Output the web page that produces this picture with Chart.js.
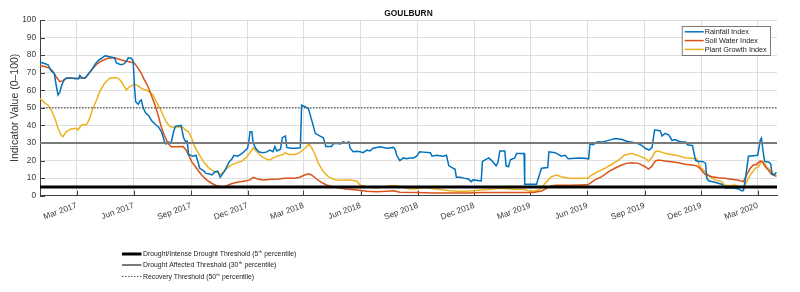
<!DOCTYPE html>
<html><head><meta charset="utf-8">
<script src="https://cdn.jsdelivr.net/npm/chart.js@4/dist/chart.umd.min.js"></script>
<style>html,body{margin:0;padding:0;background:#fff}canvas{display:block}</style>
</head><body>
<canvas id="c" width="800" height="292"></canvas>
<script>
const chartTitle = 'GOULBURN';
const yAxisTitle = 'Indicator Value (0–100)';
const seriesNames = ['Rainfall Index', 'Soil Water Index', 'Plant Growth Index'];
const xRange = ['2017-01-01', '2020-04-01'];
const xTickDates = ['2017-03-01','2017-06-01','2017-09-01','2017-12-01','2018-03-01','2018-06-01','2018-09-01','2018-12-01','2019-03-01','2019-06-01','2019-09-01','2019-12-01','2020-03-01'];
const xTickLabels = ['Mar 2017','Jun 2017','Sep 2017','Dec 2017','Mar 2018','Jun 2018','Sep 2018','Dec 2018','Mar 2019','Jun 2019','Sep 2019','Dec 2019','Mar 2020'];
const yTicks = [0,10,20,30,40,50,60,70,80,90,100];
const thresholdNames = ['Drought/Intense Drought Threshold (5th percentile)','Drought Affected Threshold (30th percentile)','Recovery Threshold (50th percentile)'];
const thresholdValues = [5, 30, 50];

const rainDates = ['2017-01-01','2017-01-06','2017-01-14','2017-01-18','2017-01-24','2017-01-27','2017-01-30','2017-02-02','2017-02-05','2017-02-09','2017-02-13','2017-02-20','2017-02-27','2017-03-04','2017-03-06','2017-03-10','2017-03-15','2017-03-20','2017-03-26','2017-03-31','2017-04-05','2017-04-11','2017-04-16','2017-04-21','2017-04-27','2017-05-01','2017-05-04','2017-05-11','2017-05-16','2017-05-20','2017-05-23','2017-05-28','2017-05-31','2017-06-02','2017-06-04','2017-06-08','2017-06-11','2017-06-13','2017-06-16','2017-06-20','2017-06-25','2017-06-30','2017-07-06','2017-07-11','2017-07-16','2017-07-20','2017-07-23','2017-07-27','2017-07-31','2017-08-04','2017-08-07','2017-08-16','2017-08-20','2017-08-23','2017-08-26','2017-08-28','2017-09-04','2017-09-09','2017-09-12','2017-09-15','2017-09-22','2017-09-25','2017-09-30','2017-10-05','2017-10-09','2017-10-14','2017-10-18','2017-10-21','2017-10-25','2017-11-01','2017-11-06','2017-11-09','2017-11-15','2017-11-20','2017-11-25','2017-12-01','2017-12-03','2017-12-05','2017-12-08','2017-12-10','2017-12-14','2017-12-19','2017-12-25','2017-12-31','2018-01-06','2018-01-11','2018-01-14','2018-01-17','2018-01-23','2018-01-26','2018-01-31','2018-02-02','2018-02-08','2018-02-17','2018-02-24','2018-02-26','2018-03-04','2018-03-09','2018-03-15','2018-03-20','2018-03-27','2018-04-02','2018-04-06','2018-04-15','2018-04-18','2018-04-23','2018-04-29','2018-05-04','2018-05-09','2018-05-13','2018-05-15','2018-05-20','2018-05-26','2018-05-31','2018-06-05','2018-06-11','2018-06-16','2018-06-21','2018-07-02','2018-07-13','2018-07-24','2018-07-27','2018-07-29','2018-08-03','2018-08-09','2018-08-14','2018-08-19','2018-08-25','2018-08-30','2018-09-04','2018-09-10','2018-09-21','2018-09-24','2018-10-01','2018-10-12','2018-10-17','2018-10-21','2018-10-26','2018-10-31','2018-11-02','2018-11-08','2018-11-14','2018-11-21','2018-11-26','2018-11-29','2018-12-12','2018-12-14','2018-12-19','2018-12-24','2018-12-29','2019-01-05','2019-01-08','2019-01-11','2019-01-19','2019-01-21','2019-01-25','2019-01-28','2019-02-04','2019-02-07','2019-02-19','2019-02-20','2019-03-11','2019-03-14','2019-03-19','2019-03-29','2019-03-31','2019-04-10','2019-04-20','2019-04-26','2019-05-01','2019-05-12','2019-05-23','2019-06-03','2019-06-05','2019-06-10','2019-06-17','2019-06-24','2019-07-05','2019-07-16','2019-07-27','2019-08-03','2019-08-12','2019-08-22','2019-08-28','2019-09-02','2019-09-08','2019-09-13','2019-09-17','2019-09-26','2019-09-29','2019-10-04','2019-10-10','2019-10-15','2019-10-20','2019-10-26','2019-10-31','2019-11-06','2019-11-09','2019-11-17','2019-11-22','2019-11-27','2019-12-03','2019-12-08','2019-12-10','2019-12-13','2019-12-24','2020-01-03','2020-01-09','2020-01-20','2020-01-29','2020-02-05','2020-02-07','2020-02-10','2020-02-13','2020-02-15','2020-03-01','2020-03-05','2020-03-07','2020-03-09','2020-03-12','2020-03-19','2020-03-22','2020-03-24','2020-03-28','2020-03-31'];
const rainValues = [76,75.5,74.5,71.5,69.5,63,57.3,59,63,66,67,67,66.5,66.5,68.5,67,67,69.5,72,75,77,78.5,79.7,79.2,78.8,78.5,75.5,74.5,75,76.5,78.5,78.3,76.5,62,53.5,52,54,54.5,50,47,45.5,42.5,40.5,39,36,31,29.5,30.5,30,36.5,39.5,40,33,31,31,23.5,22.5,23,19.5,15.6,14,12.7,12.5,11.8,13.5,14,10.5,12,14,19,21,23,22.5,23.5,25,27,31,36.4,36.4,30,27,25,24.5,24.8,26,25,28,25.5,26.5,33,34,27.5,27,27,27.3,51.5,50.5,49.5,42,35.5,34,33,28,28,29.5,29.8,29.5,30.7,30,30.7,27,25,25.3,25,24.5,26,25.5,27,27.9,27,27.5,26,23,20,21.5,21,21.5,21.5,22.5,25,24.8,24.5,22.5,23,22.5,23,17,16,15,10.5,10.5,10,9.5,8,9,8.4,19.5,20.5,21.5,20,17,19,25.5,25.5,17,16.5,20.5,21.5,24,24,6.5,6.5,10,15.6,16,25,24.5,22.5,23,21,21.3,21.5,21,29.5,29,30.7,30.5,31.5,32.6,32,31,30.5,29.5,28.5,27,26,27.5,37.4,37,34,35.5,34.5,31.5,32,31,30.5,30.5,29,28.5,20,19.5,19.5,18.5,10,8.5,7.5,6.5,4.2,4.5,4,2.7,3,9,17,22.5,23,31.5,32.8,27,19.5,19,18,12.2,12,13.3];

const soilDates = ['2017-01-01','2017-01-09','2017-01-17','2017-01-22','2017-01-27','2017-02-02','2017-02-07','2017-02-12','2017-03-03','2017-03-14','2017-03-19','2017-03-25','2017-04-02','2017-04-10','2017-04-20','2017-05-01','2017-05-12','2017-05-20','2017-05-28','2017-06-02','2017-06-08','2017-06-13','2017-06-18','2017-06-24','2017-06-29','2017-07-05','2017-07-10','2017-07-15','2017-07-21','2017-07-26','2017-07-31','2017-08-11','2017-08-19','2017-08-24','2017-08-28','2017-09-02','2017-09-10','2017-09-18','2017-09-26','2017-10-04','2017-10-12','2017-10-20','2017-10-26','2017-11-05','2017-11-16','2017-11-27','2017-12-05','2017-12-10','2017-12-16','2017-12-26','2018-01-09','2018-01-20','2018-01-30','2018-02-15','2018-02-23','2018-03-03','2018-03-09','2018-03-14','2018-03-22','2018-03-30','2018-04-07','2018-04-15','2018-04-23','2018-05-09','2018-05-26','2018-06-11','2018-06-27','2018-07-13','2018-07-24','2018-08-03','2018-08-30','2018-09-26','2018-10-23','2018-11-19','2018-12-15','2019-01-11','2019-02-07','2019-03-06','2019-03-19','2019-03-27','2019-04-04','2019-04-12','2019-05-04','2019-06-01','2019-06-05','2019-06-13','2019-06-24','2019-07-05','2019-07-15','2019-07-26','2019-08-03','2019-08-11','2019-08-22','2019-09-02','2019-09-07','2019-09-12','2019-09-18','2019-09-23','2019-10-04','2019-10-14','2019-10-25','2019-11-05','2019-11-16','2019-11-24','2019-11-29','2019-12-07','2019-12-18','2019-12-29','2020-01-08','2020-01-19','2020-01-30','2020-02-07','2020-02-12','2020-02-18','2020-02-23','2020-02-28','2020-03-05','2020-03-08','2020-03-13','2020-03-18','2020-03-23','2020-03-31'];
const soilValues = [74,73.5,72.5,70.6,67.7,64.9,65.5,66.8,66.8,67,68.7,71.5,74.8,76.7,78.2,78.5,77.2,76.5,75.9,75.5,72.5,69.7,65.9,62,57.3,51.6,46,39.3,33.6,29.8,27.9,27.9,28,26,23.2,19.4,15.6,11.8,9,7.1,5.7,5.1,5.3,6.8,7.8,8.3,9,10.5,9.7,9,9.3,9.5,9.9,9.9,10.5,11.8,12.5,11.8,9.5,7.6,6.1,5.3,4.6,3.8,3.2,2.5,2.2,2.6,2.8,2,1.8,1.5,1.5,1.5,1.8,1.8,1.8,1.8,2.7,4.2,5.7,6,6,6.2,7,9,10.8,13.7,15.6,17.5,18.4,18.7,18.4,16.5,15.2,16.5,19.7,20.3,19.7,19.3,18.7,17.9,17.5,17,15.6,12.2,10.8,10.2,9.9,9.4,8.8,8,11.8,15.6,17.5,17.8,19.7,19.5,16.5,14.6,12.2,11];

const plantDates = ['2017-01-01','2017-01-09','2017-01-14','2017-01-19','2017-01-25','2017-01-30','2017-02-04','2017-02-07','2017-02-12','2017-02-20','2017-02-28','2017-03-03','2017-03-09','2017-03-17','2017-03-22','2017-03-27','2017-04-02','2017-04-07','2017-04-15','2017-04-23','2017-05-01','2017-05-07','2017-05-12','2017-05-17','2017-05-20','2017-05-25','2017-06-02','2017-06-08','2017-06-13','2017-06-24','2017-07-02','2017-07-07','2017-07-13','2017-07-18','2017-07-23','2017-07-29','2017-08-03','2017-08-11','2017-08-19','2017-08-23','2017-08-28','2017-09-02','2017-09-07','2017-09-13','2017-09-21','2017-09-29','2017-10-07','2017-10-15','2017-10-19','2017-10-26','2017-11-03','2017-11-11','2017-11-22','2017-11-30','2017-12-08','2017-12-10','2017-12-16','2017-12-24','2018-01-01','2018-01-06','2018-01-11','2018-01-20','2018-01-28','2018-01-30','2018-02-05','2018-02-15','2018-02-23','2018-03-03','2018-03-10','2018-03-14','2018-03-20','2018-03-25','2018-04-02','2018-04-10','2018-04-15','2018-04-23','2018-05-04','2018-05-15','2018-05-26','2018-05-31','2018-06-05','2018-06-16','2018-06-27','2018-07-08','2018-07-18','2018-07-29','2018-08-09','2018-08-19','2018-08-30','2018-09-10','2018-09-21','2018-10-01','2018-10-12','2018-10-23','2018-11-03','2018-11-19','2018-12-02','2018-12-23','2019-01-14','2019-02-04','2019-02-15','2019-02-26','2019-03-06','2019-03-14','2019-03-19','2019-03-25','2019-03-30','2019-04-04','2019-04-12','2019-04-20','2019-05-01','2019-05-23','2019-06-01','2019-06-08','2019-06-18','2019-06-29','2019-07-10','2019-07-21','2019-07-31','2019-08-11','2019-08-22','2019-09-02','2019-09-07','2019-09-12','2019-09-18','2019-09-23','2019-10-04','2019-10-14','2019-10-25','2019-11-05','2019-11-16','2019-11-24','2019-11-29','2019-12-07','2019-12-15','2019-12-23','2020-01-03','2020-01-08','2020-01-16','2020-01-24','2020-02-01','2020-02-07','2020-02-11','2020-02-18','2020-02-26','2020-03-02','2020-03-07','2020-03-12','2020-03-15','2020-03-23','2020-03-31'];
const plantValues = [55.4,52.6,51.5,48.8,44,38.4,34.5,33.6,36.4,38,38.4,37.5,40.2,40.5,44,49.7,54.5,59.2,64,66.8,67.2,66.8,65,62,60.2,62,63.4,62.5,61.1,59.6,57.3,53.5,49.7,45.9,42.1,39.3,39,39.3,39,37.4,36.4,32.7,27.9,24.1,19.4,16,14.1,13.1,12.2,14.6,17.1,18.4,19.7,22.2,26,27.3,25,22.2,20.7,20.3,21.5,22.8,23.5,24.5,23.5,23.5,24.5,27,29.3,27.5,23.2,18.4,13.7,10.8,9.9,9,8.8,9,8.2,6.1,5.5,4.6,4.3,5.1,5.7,5.7,4.6,3.8,4,4.6,4.2,3.8,3.2,2.8,2.5,2.5,3,3.5,4.2,3.5,3.8,2.8,2.5,3.2,4.6,7.1,9,10.8,11.8,10.8,9.9,9.9,9.9,11.8,13.7,15.6,17.9,20.3,23.2,24,22.8,21.3,19.7,21.5,25,25.4,24.1,23.5,22.8,21.6,21.3,21,16.5,13.7,10.8,9,8,6.1,5.7,6.1,5.1,4.5,7.1,11.8,15.6,16.5,19.4,18.5,16.5,13.7,11];

const FONT = 'Liberation Sans, Arial, sans-serif';
const dayOf = s => (Date.parse(s) - Date.parse(xRange[0])) / 864e5;
const toXY = (dates, vals) => dates.map((d, i) => ({x: dayOf(d), y: vals[i]}));
const xMin = dayOf(xRange[0]), xMax = dayOf(xRange[1]);

const seriesColors = ['#0072BD', '#D95319', '#EDB120'];
const thrStyles = [
  {color: '#000000', width: 3, dash: []},
  {color: '#7a7a7a', width: 2, dash: []},
  {color: '#555555', width: 1.2, dash: [1.5, 1.5]}
];

const datasets = [];
thresholdValues.forEach((v, i) => {
  datasets.push({label: thresholdNames[i], data: [{x: xMin, y: v}, {x: xMax, y: v}],
    borderColor: thrStyles[i].color, borderWidth: thrStyles[i].width, borderDash: thrStyles[i].dash,
    pointRadius: 0, fill: false});
});
[[rainDates, rainValues], [soilDates, soilValues], [plantDates, plantValues]].forEach(([d, v], i) => {
  datasets.push({label: seriesNames[i], data: toXY(d, v), borderColor: seriesColors[i], borderWidth: 1.5,
    pointRadius: 0, fill: false, tension: 0});
});

function drawSupText(ctx, text, x, y, size) {
  const m = text.match(/^(.*?\d+)(th)(.*)$/);
  ctx.font = size + 'px ' + FONT;
  if (!m) { ctx.fillText(text, x, y); return; }
  ctx.fillText(m[1], x, y);
  let cx = x + ctx.measureText(m[1]).width;
  ctx.font = (size * 0.62) + 'px ' + FONT;
  ctx.fillText(m[2], cx + 0.3, y - size * 0.32);
  cx += ctx.measureText(m[2]).width + 0.6;
  ctx.font = size + 'px ' + FONT;
  ctx.fillText(m[3], cx, y);
}

const decor = {
  id: 'decor',
  beforeDatasetsDraw(chart) {
    const {ctx, chartArea: a, scales: {x, y}} = chart;
    ctx.save();
    ctx.strokeStyle = '#404040'; ctx.lineWidth = 1;
    ctx.beginPath();
    y.ticks.forEach(t => { const py = Math.round(y.getPixelForValue(t.value)) + 0.5; ctx.moveTo(a.left, py); ctx.lineTo(a.left + 5, py); });
    x.ticks.forEach(t => { const px = Math.round(x.getPixelForValue(t.value)) + 0.5; ctx.moveTo(px, a.bottom); ctx.lineTo(px, a.bottom - 5); });
    ctx.stroke();
    ctx.restore();
  },
  afterDraw(chart) {
    const {ctx, chartArea: a} = chart;
    ctx.save();
    ctx.fillStyle = '#111'; ctx.textAlign = 'center'; ctx.textBaseline = 'alphabetic';
    ctx.font = 'bold 8.4px ' + FONT;
    ctx.fillText(chartTitle, (a.left + a.right) / 2, 16);
    const bw = 88.3, bh = 29, bx = a.right - 95.3, by = a.top + 6;
    ctx.fillStyle = '#fff'; ctx.fillRect(bx, by, bw, bh);
    ctx.strokeStyle = '#5a5a5a'; ctx.lineWidth = 0.8; ctx.strokeRect(bx + 0.5, by + 0.5, bw, bh);
    ctx.textAlign = 'left'; ctx.textBaseline = 'middle';
    seriesNames.forEach((n, i) => {
      const ry = by + 5.8 + i * 8.8;
      ctx.strokeStyle = seriesColors[i]; ctx.lineWidth = 1.5;
      ctx.beginPath(); ctx.moveTo(bx + 3, ry); ctx.lineTo(bx + 22, ry); ctx.stroke();
      ctx.fillStyle = '#222'; ctx.font = '7.3px ' + FONT;
      ctx.fillText(n, bx + 23, ry + 0.3);
    });
    const rows = [254, 265, 276.5];
    thresholdNames.forEach((n, i) => {
      const s = thrStyles[i];
      ctx.strokeStyle = s.color; ctx.lineWidth = s.width; ctx.setLineDash(s.dash);
      ctx.beginPath(); ctx.moveTo(122, rows[i]); ctx.lineTo(141.5, rows[i]); ctx.stroke();
      ctx.setLineDash([]);
      ctx.fillStyle = '#222'; ctx.textBaseline = 'middle';
      drawSupText(ctx, n, 143, rows[i] + 0.3, 6.85);
    });
    ctx.restore();
  }
};

new Chart(document.getElementById('c'), {
  type: 'line',
  data: {datasets},
  plugins: [decor],
  options: {
    responsive: false, animation: false, devicePixelRatio: 1,
    layout: {padding: {top: 20, right: 23, bottom: 0, left: 0}},
    plugins: {legend: {display: false}, tooltip: {enabled: false}, title: {display: false}},
    elements: {point: {radius: 0}, line: {tension: 0}},
    scales: {
      x: {
        type: 'linear', min: xMin, max: xMax,
        afterBuildTicks: s => { s.ticks = xTickDates.map(d => ({value: dayOf(d)})); },
        afterFit: s => { s.height = 96.3; },
        ticks: {autoSkip: false, minRotation: 20, maxRotation: 20, padding: 5, color: '#3a3a3a',
          font: {family: FONT, size: 8.3}, callback: (v, i) => xTickLabels[i]},
        grid: {color: '#dedede', lineWidth: 1, drawTicks: false},
        border: {color: '#404040', width: 1}
      },
      y: {
        min: 0, max: 100,
        afterBuildTicks: s => { s.ticks = yTicks.map(v => ({value: v})); },
        afterFit: s => { s.width = 40; },
        ticks: {padding: 4, color: '#3a3a3a', font: {family: FONT, size: 8.3}},
        grid: {color: '#dedede', lineWidth: 1, drawTicks: false},
        border: {color: '#404040', width: 1},
        title: {display: true, text: yAxisTitle, color: '#333', font: {family: FONT, size: 10.5}, padding: {top: 9, bottom: 0}}
      }
    }
  }
});
</script>
</body></html>
